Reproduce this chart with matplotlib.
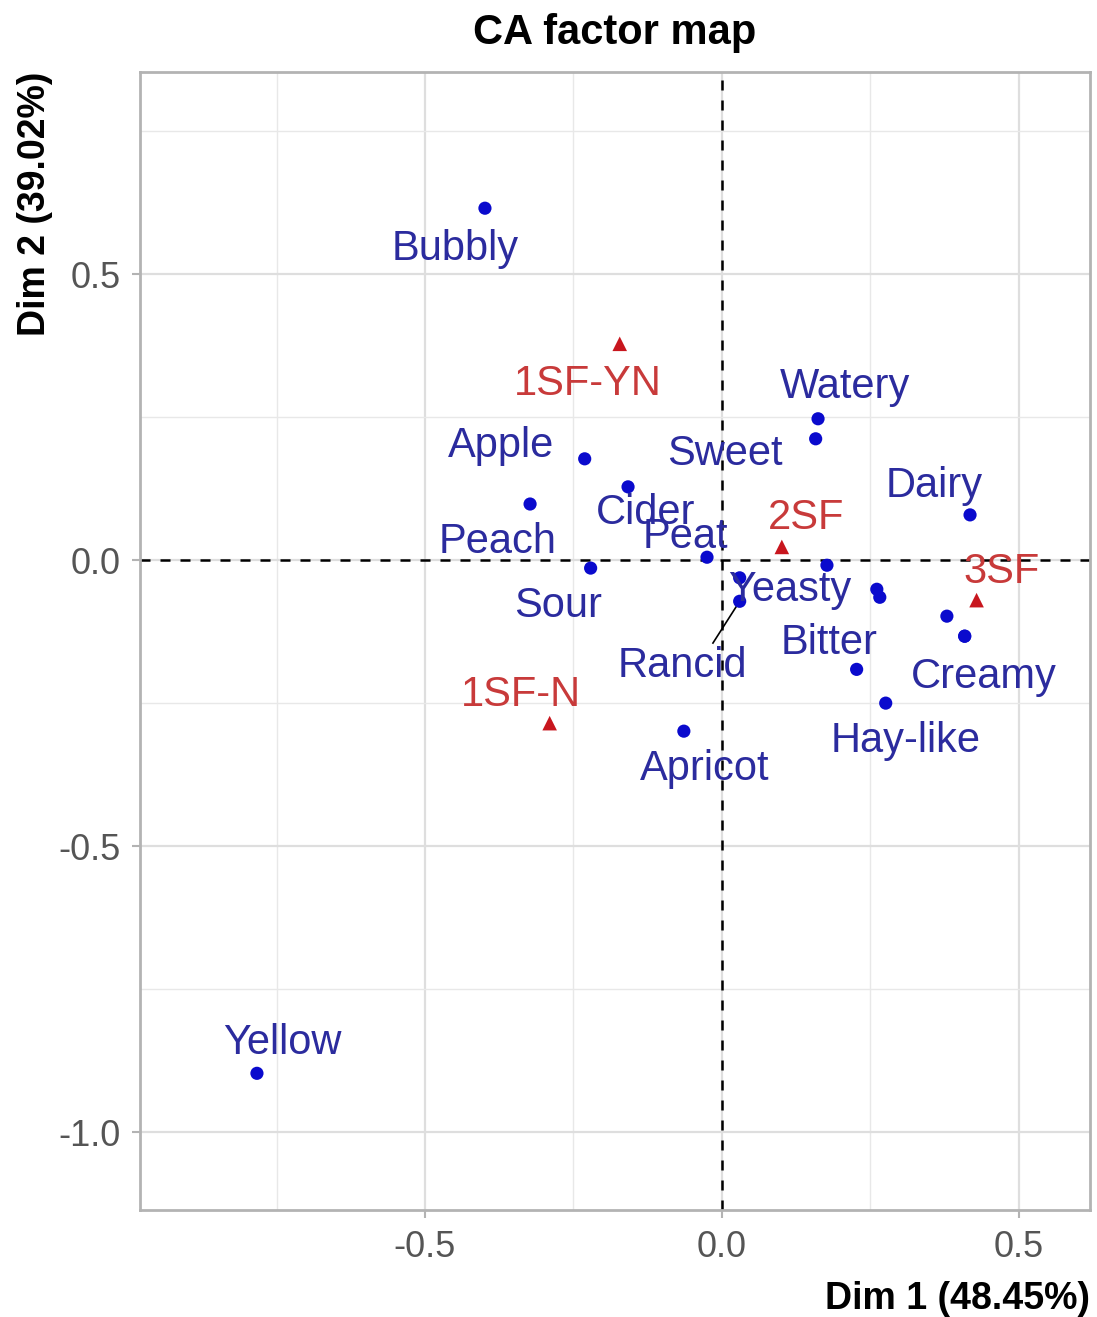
import matplotlib.pyplot as plt

plt.rcParams['font.family'] = ['Liberation Sans', 'DejaVu Sans']

# row points (attributes), blue circles
row_names = ['Bubbly', 'Apple', 'Cider', 'Peach', 'Sour', 'Peat', 'Yeasty', 'Rancid',
             'Watery', 'Sweet', 'Dairy', '', '', '', '', '', 'Bitter', 'Creamy',
             'Hay-like', 'Apricot', 'Yellow']
row_x = [-0.399, -0.231, -0.158, -0.323, -0.221, -0.025, 0.030, 0.030,
         0.162, 0.158, 0.418, 0.177, 0.261, 0.266, 0.379, 0.409, 0.227, 0.409,
         0.276, -0.064, -0.783]
row_y = [0.615, 0.177, 0.128, 0.098, -0.014, 0.005, -0.031, -0.072,
         0.247, 0.212, 0.079, -0.009, -0.051, -0.065, -0.098, -0.133, -0.191, -0.133,
         -0.250, -0.299, -0.897]

# column points (samples), red triangles
col_names = ['1SF-YN', '2SF', '3SF', '1SF-N']
col_x = [-0.172, 0.101, 0.429, -0.290]
col_y = [0.378, 0.023, -0.070, -0.285]

# repelled label positions
row_lab_x = [-0.449, -0.372, -0.128, -0.377, -0.276, -0.062, 0.114, -0.066,
             0.207, 0.005, 0.357, 0, 0, 0, 0, 0, 0.180, 0.441, 0.310, -0.029, -0.741]
row_lab_y = [0.544, 0.199, 0.082, 0.031, -0.080, 0.040, -0.052, -0.185,
             0.302, 0.185, 0.129, 0, 0, 0, 0, 0, -0.145, -0.205, -0.316, -0.365, -0.844]
col_lab_x = [-0.226, 0.141, 0.471, -0.338]
col_lab_y = [0.308, 0.073, -0.021, -0.236]

row_col = '#0A0ACD'
row_txt = '#2B2B9E'
col_col = '#C8161E'
col_txt = '#C83A3A'

fig = plt.figure(figsize=(10.97, 13.17), dpi=100)
ax = fig.add_axes([0.1276, 0.0812, 0.866, 0.8641])

ax.set_xlim(-0.980, 0.620)
ax.set_ylim(-1.136, 0.853)

ax.set_xticks([-0.5, 0.0, 0.5])
ax.set_xticklabels(['-0.5', '0.0', '0.5'])
ax.set_yticks([-1.0, -0.5, 0.0, 0.5])
ax.set_yticklabels(['-1.0', '-0.5', '0.0', '0.5'])
ax.set_xticks([-0.75, -0.25, 0.25], minor=True)
ax.set_yticks([-0.75, -0.25, 0.25, 0.75], minor=True)
ax.grid(which='major', color='#DEDEDE', lw=1.6)
ax.grid(which='minor', color='#E8E8E8', lw=1.0)
ax.set_axisbelow(True)
ax.tick_params(which='major', length=6, width=1.5, color='#B3B3B3',
               labelsize=26, labelcolor='#555555', pad=8)
ax.tick_params(which='minor', length=0)
for s in ax.spines.values():
    s.set_color('#B3B3B3')
    s.set_linewidth(2)

ax.axvline(0, color='black', ls=(0, (4, 4)), lw=1.8, zorder=1)
ax.axhline(0, color='black', ls=(0, (4, 4)), lw=1.8, zorder=1)

# connector for Rancid label
ax.plot([-0.015, row_x[7]], [-0.145, row_y[7]], color='black', lw=1.2, zorder=2)

ax.scatter(row_x, row_y, s=90, color=row_col, zorder=3, edgecolors='none')
ax.scatter(col_x, col_y, s=110, marker='^', color=col_col, zorder=3, edgecolors='none')

for name, lx, ly in zip(row_names, row_lab_x, row_lab_y):
    if name:
        ax.text(lx, ly, name, color=row_txt, fontsize=30, ha='center', va='center', zorder=4)
for name, lx, ly in zip(col_names, col_lab_x, col_lab_y):
    ax.text(lx, ly, name, color=col_txt, fontsize=30, ha='center', va='center', zorder=4)

ax.set_title('CA factor map', fontsize=30, fontweight='bold', pad=20)
ax.set_xlabel('Dim 1 (48.45%)', fontsize=27, fontweight='bold', loc='right', labelpad=12)
ax.set_ylabel('Dim 2 (39.02%)', fontsize=27, fontweight='bold', loc='top', labelpad=4)

fig.savefig('out.png', dpi=100)
